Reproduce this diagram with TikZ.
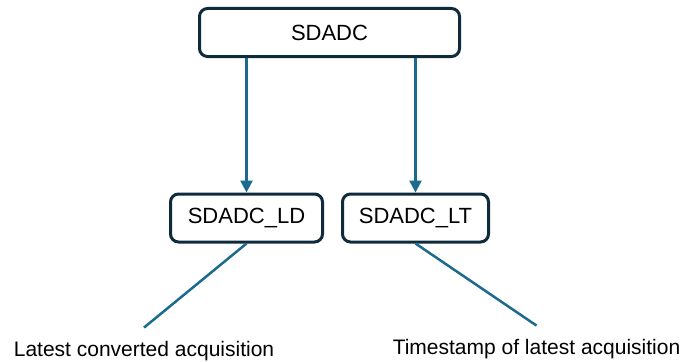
\documentclass[tikz,border=0pt]{standalone}
\usepackage{fontspec}
\setmainfont{Liberation Sans}
\usetikzlibrary{shapes,arrows.meta}
\definecolor{bxline}{HTML}{0E2B3C}
\definecolor{lnk}{HTML}{1C6A8D}
\tikzstyle{bx}=[rectangle,rounded corners=8pt,draw=bxline,line width=3pt,fill=white,minimum height=48pt,inner sep=0pt,font=\fontsize{22}{26}\selectfont]
\tikzstyle{lbl}=[inner sep=0pt,font=\fontsize{21}{25}\selectfont]
\tikzstyle{arr}=[draw=lnk,line width=2.5pt,-{Triangle[length=12pt,width=12pt]}]
\tikzstyle{lnkline}=[draw=lnk,line width=2.5pt]

\begin{document}
\begin{tikzpicture}[x=1pt,y=-1pt]
\useasboundingbox (0,0) rectangle (684,361);
\node[bx,minimum width=260pt] (sdadc) at (329.5,32.5) {SDADC};
\node[bx,minimum width=152pt] (ld) at (246.5,218) {SDADC\_LD};
\node[bx,minimum width=146pt] (lt) at (415.5,218) {SDADC\_LT};
\node[lbl,anchor=base] (lca) at (144,356) {Latest converted acquisition};
\node[lbl,anchor=base] (tla) at (536.5,354) {Timestamp of latest acquisition};
\draw[arr] (ld.north |- sdadc.south) -- (ld.north);
\draw[arr] (lt.north |- sdadc.south) -- (lt.north);
\draw[lnkline] (ld.south) -- ([yshift=13pt]lca.north);
\draw[lnkline] (lt.south) -- ([yshift=13pt]tla.north);
\end{tikzpicture}
\end{document}
